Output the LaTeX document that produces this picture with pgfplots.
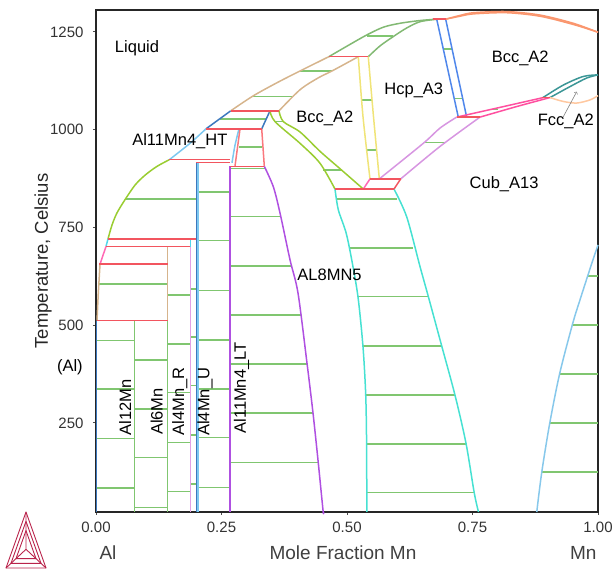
\documentclass[border=0pt]{standalone}
\usepackage{pgfplots}
\pgfplotsset{compat=1.18}
\usetikzlibrary{calc}
\usepackage{fontspec}
\setmainfont{Liberation Sans}
\definecolor{tiegreen}{RGB}{128,198,112}
\definecolor{tcred}{RGB}{242,85,95}
\definecolor{ygreen}{RGB}{154,205,50}
\definecolor{lblue}{RGB}{125,200,240}
\definecolor{sblue}{RGB}{60,120,190}
\definecolor{tanc}{RGB}{214,180,140}
\definecolor{sgreen}{RGB}{130,185,115}
\definecolor{coralc}{RGB}{250,150,110}
\definecolor{yel}{RGB}{240,228,120}
\definecolor{rblue}{RGB}{80,135,235}
\definecolor{dpink}{RGB}{255,80,160}
\definecolor{tealc}{RGB}{60,150,150}
\definecolor{peach}{RGB}{255,200,160}
\definecolor{violc}{RGB}{215,150,225}
\definecolor{purp}{RGB}{175,80,225}
\definecolor{turq}{RGB}{70,225,210}
\definecolor{skyb}{RGB}{135,200,235}
\definecolor{plumc}{RGB}{225,160,230}
\definecolor{cyanc}{RGB}{80,215,235}
\definecolor{hpink}{RGB}{255,105,180}
\definecolor{salm}{RGB}{250,120,125}
\definecolor{logoc}{RGB}{185,35,75}
\pgfplotsset{
  pl/.style={line width=1.5pt, mark=none, line join=round},
  tie/.style={pl, draw=tiegreen},
  redl/.style={pl, draw=tcred},
}
\newcommand\tie[3]{\addplot[tie] coordinates {(#1,#3) (#2,#3)};}
\newcommand\red[3]{\addplot[redl] coordinates {(#1,#3) (#2,#3)};}
\newcommand\lab[3]{\node[font=\fontsize{16.5}{19}\selectfont] at (axis cs:#1,#2) {#3};}
\newcommand\rlab[3]{\node[font=\fontsize{16.5}{19}\selectfont, rotate=90] at (axis cs:#1,#2) {#3};}
\begin{document}
\begin{tikzpicture}
\useasboundingbox (0,0) rectangle (613pt,577pt);
\begin{axis}[
  at={(96pt,65pt)}, anchor=south west,
  scale only axis, width=502pt, height=502pt,
  xmin=0, xmax=1, ymin=22, ymax=1306,
  xtick={0,0.25,0.5,0.75,1}, xticklabels={0.00,0.25,0.50,0.75,1.00},
  ytick={250,500,750,1000,1250}, yticklabels={250,500,750,1000,1250},
  tick align=outside, tick pos=left, major tick length=3pt,
  axis line style={draw=black!85, line width=1.4pt},
  tick style={draw=black!70, line width=0.8pt},
  ticklabel style={font=\fontsize{15}{18}\selectfont, text=black!80},
  yticklabel style={xshift=-6pt},
  xticklabel style={yshift=-3pt},
  clip=false,
]
% ---- tie lines
\tie{0.001}{0.0769}{460}\tie{0.001}{0.0769}{336}\tie{0.001}{0.0769}{210}\tie{0.001}{0.0769}{84}
\tie{0.0769}{0.1429}{411}\tie{0.0769}{0.1429}{285}\tie{0.0769}{0.1429}{161}\tie{0.0769}{0.1429}{33}
\tie{0.003}{0.1429}{605}
\tie{0.1429}{0.188}{577}\tie{0.1429}{0.188}{452}\tie{0.1429}{0.188}{327}\tie{0.1429}{0.188}{200}\tie{0.1429}{0.188}{74}
\tie{0.188}{0.2}{592}\tie{0.188}{0.2}{469}\tie{0.188}{0.2}{345}\tie{0.188}{0.2}{219}\tie{0.188}{0.2}{94}
\tie{0.2}{0.2667}{840}\tie{0.2}{0.2667}{716}\tie{0.2}{0.2667}{588}\tie{0.2}{0.2667}{462}\tie{0.2}{0.2667}{337}\tie{0.2}{0.2667}{212}\tie{0.2}{0.2667}{85}
\tie{0.2667}{0.337}{901}\tie{0.2667}{0.367}{777.5}\tie{0.2667}{0.3895}{651}\tie{0.2667}{0.408}{526}\tie{0.2667}{0.4206}{400}\tie{0.2667}{0.4323}{275}\tie{0.2667}{0.4427}{149}
\tie{0.0584}{0.2}{822}
\tie{0.2855}{0.330}{956}
\tie{0.2467}{0.3392}{1027.5}
\tie{0.313}{0.393}{1085}\tie{0.4064}{0.4701}{1150}
\tie{0.5392}{0.5922}{1240}
\tie{0.5293}{0.5499}{1076}\tie{0.5395}{0.5594}{948}
\tie{0.6919}{0.7094}{1206}\tie{0.7134}{0.7303}{1080}
\tie{0.7882}{0.8014}{1052}
\tie{0.6554}{0.6952}{967}
\tie{0.4795}{0.599}{823}\tie{0.506}{0.631}{697}\tie{0.5219}{0.662}{573}\tie{0.5319}{0.6886}{447}\tie{0.5373}{0.7151}{321}\tie{0.539}{0.737}{196}\tie{0.5395}{0.7536}{72}
\tie{0.3566}{0.3731}{1020.5}\tie{0.452}{0.489}{897}
\tie{0.980}{1}{626}\tie{0.9476}{1}{500}\tie{0.924}{1}{375}\tie{0.904}{1}{250}\tie{0.888}{1}{124}
% ---- stoichiometric phases
\addplot[pl, draw=sblue] coordinates {(0.001,22) (0.001,511.5)};
\addplot[pl, draw=tiegreen] coordinates {(0.0769,22) (0.0769,511.5)};
\addplot[pl, draw=tiegreen] coordinates {(0.1429,22) (0.1429,511.5)};
\addplot[pl, draw=tanc] coordinates {(0.1429,511.5) (0.1429,701)};
\addplot[pl, draw=plumc] coordinates {(0.188,22) (0.188,701)};
\addplot[pl, draw=cyanc] coordinates {(0.188,701) (0.188,720.5)};
\addplot[pl, draw=lblue] coordinates {(0.2028,22) (0.2028,915.5)};
\addplot[pl, draw=sblue] coordinates {(0.2,22) (0.2,915.5)};
\addplot[pl, draw=purp] coordinates {(0.2667,22) (0.2667,906)};
% ---- Al-side liquidus and solvus
\addplot[pl, draw=ygreen, smooth, tension=0.5] coordinates {(0.146,923) (0.1215,906) (0.0982,884) (0.0783,859) (0.0584,822) (0.0418,787) (0.0319,756) (0.0239,720.5)};
\addplot[pl, draw=cyanc] coordinates {(0.0239,720.5) (0.0199,701)};
\addplot[pl, draw=hpink] coordinates {(0.0199,701) (0.008,656)};
\addplot[pl, draw=tanc] coordinates {(0.008,656) (0.0045,580) (0.002,511.5)};
\addplot[pl, draw=lblue, smooth, tension=0.5] coordinates {(0.146,923) (0.1873,965) (0.2191,1002)};
\addplot[pl, draw=lblue, smooth, tension=0.5] coordinates {(0.2849,1002) (0.2769,960) (0.2709,915)};
\addplot[pl, draw=salm] coordinates {(0.2869,1002) (0.2769,907)};
\addplot[pl, draw=salm] coordinates {(0.3301,1002) (0.3353,906)};
\addplot[pl, draw=sblue] coordinates {(0.2191,1002) (0.2683,1048)};
\addplot[pl, draw=sblue] coordinates {(0.3466,1048) (0.3301,1002)};
% ---- upper liquidus / solidus
\addplot[pl, draw=tanc, smooth, tension=0.5] coordinates {(0.2683,1048) (0.3127,1086) (0.3606,1120) (0.4064,1150) (0.4637,1186.5)};
\addplot[pl, draw=tanc, smooth, tension=0.5] coordinates {(0.3645,1048) (0.4064,1102) (0.4422,1132) (0.4701,1150) (0.5225,1186.5)};
\addplot[pl, draw=sgreen, smooth, tension=0.5] coordinates {(0.4637,1186.5) (0.5060,1218) (0.5392,1242) (0.5724,1262) (0.6056,1272) (0.6454,1279) (0.6787,1282.5)};
\addplot[pl, draw=sgreen, smooth, tension=0.5] coordinates {(0.5424,1186.5) (0.5657,1214) (0.5922,1238) (0.6189,1260) (0.6454,1276) (0.6787,1282.5)};
\addplot[pl, draw=yel, smooth, tension=0.5] coordinates {(0.5225,1186.5) (0.5319,1033) (0.5458,874)};
\addplot[pl, draw=yel, smooth, tension=0.5] coordinates {(0.5424,1186.5) (0.5528,1033) (0.5644,874)};
\addplot[pl, draw=rblue] coordinates {(0.6787,1282.5) (0.7217,1032)};
\addplot[pl, draw=rblue] coordinates {(0.6966,1282.5) (0.7384,1032)};
\addplot[pl, draw=coralc, smooth, tension=0.5] coordinates {(0.6966,1282.5) (0.7250,1292) (0.7516,1299) (0.8181,1302) (0.8845,1293) (0.9508,1272) (1.0,1249)};
\addplot[pl, draw=coralc, smooth, tension=0.5] coordinates {(0.6966,1282.5) (0.7250,1290) (0.7516,1296) (0.8181,1299) (0.8845,1290) (0.9508,1269) (1.0,1249)};
\addplot[pl, draw=dpink, smooth, tension=0.5] coordinates {(0.7185,1032) (0.7982,1055) (0.8910,1082)};
\addplot[pl, draw=dpink, smooth, tension=0.5] coordinates {(0.7649,1032) (0.8380,1059) (0.9044,1082)};
\addplot[pl, draw=tealc, smooth, tension=0.5] coordinates {(0.8904,1082) (0.9309,1114) (0.9707,1136) (1.0,1140)};
\addplot[pl, draw=tealc, smooth, tension=0.5] coordinates {(0.9044,1082) (0.9442,1110) (0.9776,1132) (1.0,1140)};
\addplot[pl, draw=peach, smooth, tension=0.5] coordinates {(0.9044,1082) (0.9309,1072) (0.9576,1068) (0.9841,1076) (1.0,1087)};
\addplot[pl, draw=violc, smooth, tension=0.5] coordinates {(0.5644,874) (0.6520,965) (0.6853,1004) (0.7185,1032)};
\addplot[pl, draw=violc, smooth, tension=0.5] coordinates {(0.6070,874) (0.6853,957) (0.7649,1032)};
\addplot[pl, draw=ygreen, smooth, tension=0.5] coordinates {(0.3645,1048) (0.3731,1020.5) (0.4064,994) (0.4462,944.6) (0.4861,900) (0.5325,848)};
\addplot[pl, draw=ygreen, smooth, tension=0.5] coordinates {(0.3466,1048) (0.3566,1020.5) (0.4064,965) (0.4462,914) (0.4761,848)};
\addplot[pl, draw=purp, smooth, tension=0.5] coordinates {(0.3353,906) (0.3532,854) (0.3665,787) (0.3865,667) (0.4024,582) (0.4203,403) (0.4323,275) (0.4422,155) (0.4522,27) (0.4532,22)};
\addplot[pl, draw=turq, smooth, tension=0.5] coordinates {(0.4761,848) (0.4827,795) (0.4980,737) (0.5094,667) (0.5219,572) (0.5319,444) (0.5373,321) (0.5390,199) (0.5395,22)};
\addplot[pl, draw=turq, smooth, tension=0.5] coordinates {(0.5936,848) (0.6189,777) (0.6454,650) (0.6620,573) (0.6886,447) (0.7151,321) (0.7370,198) (0.7536,70) (0.7620,22)};
\addplot[pl, draw=skyb, smooth, tension=0.5] coordinates {(1.0,705) (0.990,667) (0.980,628) (0.964,564) (0.950,506) (0.924,378) (0.904,250) (0.888,124) (0.878,22)};
\addplot[pl, draw=hpink] coordinates {(0.5325,848) (0.5458,874)};
\addplot[pl, draw=tcred] coordinates {(0.5936,848) (0.6070,874)};
% ---- invariant lines
\red{0.4637}{0.5424}{1186.5}
\red{0.6719}{0.6966}{1282.5}
\red{0.2683}{0.3645}{1048}
\red{0.2191}{0.3301}{1002}
\red{0.146}{0.2667}{923}
\red{0.2}{0.2667}{915.5}
\red{0.2667}{0.3353}{906}
\red{0.7185}{0.7649}{1032}
\red{0.8878}{0.9044}{1082}
\red{0.4761}{0.5936}{848}
\red{0.5458}{0.6070}{874}
\red{0.0239}{0.2}{720.5}
\red{0.0199}{0.188}{701}
\red{0.006}{0.1429}{656}
\red{0.002}{0.1429}{511.5}
% ---- arrow
\addplot[gray, line width=0.6pt, ->, mark=none] coordinates {(0.9309,1033) (0.9576,1097)};
% ---- labels
\lab{0.0817}{1209}{Liquid}
\lab{0.167}{970}{Al11Mn4\_HT}
\lab{0.456}{1030}{Bcc\_A2}
\lab{0.633}{1099}{Hcp\_A3}
\lab{0.845}{1181}{Bcc\_A2}
\lab{0.936}{1022}{Fcc\_A2}
\lab{0.813}{861}{Cub\_A13}
\lab{0.4652}{628}{AL8MN5}
\lab{-0.052}{393}{(Al)}
\rlab{0.058}{290}{Al12Mn}
\rlab{0.121}{279}{Al6Mn}
\rlab{0.167}{305}{Al4Mn\_R}
\rlab{0.217}{304}{Al4Mn\_U}
\rlab{0.290}{339}{Al11Mn4\_LT}
\path (rel axis cs:0,0.5) ++(-53pt,0pt) node[rotate=90, font=\fontsize{18.5}{22}\selectfont, text=black!85] {Temperature, Celsius};
\path (rel axis cs:0,0) ++(0pt,-41pt) node[anchor=west, font=\fontsize{19}{22}\selectfont, text=black!75] {Al};
\path (rel axis cs:1,0) ++(2pt,-41pt) node[anchor=east, font=\fontsize{19}{22}\selectfont, text=black!75] {Mn};
\path (rel axis cs:0.492,0) ++(0pt,-41pt) node[font=\fontsize{19}{22}\selectfont, text=black!75] {Mole Fraction Mn};
\end{axis}
% Thermo-Calc logo
\begin{scope}[logoc, line width=0.9pt, line join=round]
\coordinate (A) at (26pt,65pt);
\coordinate (B) at (6pt,9pt);
\coordinate (C) at (46pt,9pt);
\coordinate (O) at (26pt,27.7pt);
\draw (A) -- (B) -- (C) -- cycle;
\draw (A) -- (O) (B) -- (O) (C) -- (O);
\draw ($(O)!0.5!(A)$) -- ($(O)!0.5!(B)$) -- ($(O)!0.5!(C)$) -- cycle;
\draw ($(O)!0.75!(A)$) -- ($(O)!0.75!(B)$) -- ($(O)!0.75!(C)$) -- cycle;
\end{scope}
\end{tikzpicture}
\end{document}
